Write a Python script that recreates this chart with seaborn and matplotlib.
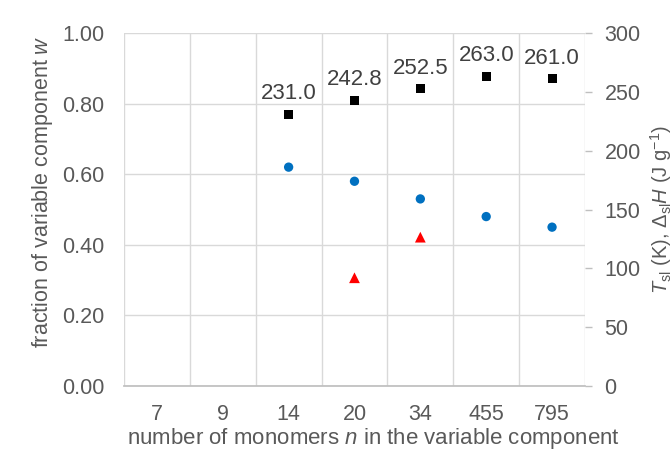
import numpy as np
import pandas as pd
import matplotlib
matplotlib.use('Agg')
import matplotlib.pyplot as plt
import seaborn as sns

# Data
categories = ['7', '9', '14', '20', '34', '455', '795']
temp_n = ['14', '20', '34', '455', '795']
temp_values = [231.0, 242.8, 252.5, 263.0, 261.0]          # T_sl (K), right axis
fraction_n = ['14', '20', '34', '455', '795']
fraction_values = [0.62, 0.58, 0.53, 0.48, 0.45]           # w, left axis
enthalpy_n = ['20', '34']
enthalpy_values = [92.0, 126.5]                             # Delta_sl H (J/g), right axis

sns.set_theme(style='white')
plt.rcParams['font.family'] = ['Liberation Sans', 'DejaVu Sans']
plt.rcParams['mathtext.fontset'] = 'custom'
plt.rcParams['mathtext.rm'] = 'Liberation Sans'
plt.rcParams['mathtext.it'] = 'Liberation Sans:italic'

grid_col = '#d9d9d9'
text_col = '#595959'

pos = {c: i for i, c in enumerate(categories)}
temp_df = pd.DataFrame({'x': [pos[c] for c in temp_n], 'y': temp_values})
frac_df = pd.DataFrame({'x': [pos[c] for c in fraction_n], 'y': fraction_values})
enth_df = pd.DataFrame({'x': [pos[c] for c in enthalpy_n], 'y': enthalpy_values})

fig = plt.figure(figsize=(6.72, 4.55), dpi=100)
ax = fig.add_axes([0.1845, 0.1516, 0.686, 0.7759])
ax2 = ax.twinx()

# left axis: fraction w
sns.scatterplot(data=frac_df, x='x', y='y', ax=ax, marker='o', s=45,
                color='#0070C0', edgecolor='none', zorder=3)
ax.set_xlim(-0.5, len(categories) - 0.5)
ax.set_ylim(0, 1)
ax.set_yticks(np.arange(0, 1.01, 0.2))
ax.set_yticklabels([f'{v:.2f}' for v in np.arange(0, 1.01, 0.2)])
ax.set_xticks(range(len(categories)))
ax.set_xticklabels(categories)
ax.set_xticks(np.arange(-0.5, len(categories), 1), minor=True)
ax.grid(True, axis='y', which='major', color=grid_col, lw=1)
ax.grid(True, axis='x', which='minor', color=grid_col, lw=1)
ax.grid(False, axis='x', which='major')
ax.tick_params(axis='both', which='both', length=0, labelsize=15.5, colors=text_col)
ax.tick_params(axis='y', pad=14)
ax.tick_params(axis='x', pad=13)
ax.set_xlabel('number of monomers $\\it{n}$ in the variable component',
              fontsize=16, color=text_col)
ax.xaxis.set_label_coords(0.541, -0.112)
ax.set_ylabel('fraction of variable component $\\it{w}$',
              fontsize=15.5, color=text_col)
ax.yaxis.set_label_coords(-0.15, 0.55)
for side in ['top', 'left', 'right']:
    ax.spines[side].set_visible(False)
ax.spines['bottom'].set_color('#bfbfbf')
ax.set_axisbelow(True)

# right axis: T_sl and Delta_sl H
sns.scatterplot(data=temp_df, x='x', y='y', ax=ax2, marker='s', s=42,
                color='black', edgecolor='none', zorder=3)
sns.scatterplot(data=enth_df, x='x', y='y', ax=ax2, marker='^', s=60,
                color='#FF0000', edgecolor='none', zorder=3)
for xv, yv in zip(temp_df['x'], temp_df['y']):
    ax2.annotate(f'{yv:.1f}', (xv, yv), xytext=(0, 11), textcoords='offset points',
                 ha='center', va='baseline', fontsize=16, color='#404040')
ax2.set_ylim(0, 300)
ax2.set_yticks(range(0, 301, 50))
ax2.tick_params(axis='y', length=5, width=1, color='#bfbfbf', labelsize=15.5,
                labelcolor=text_col, pad=9)
ax2.set_ylabel('$\\it{T}_{\\rm sl}$ (K), $\\Delta_{\\rm sl}\\it{H}$ (J g$^{-1}$)',
               fontsize=14.5, color=text_col, labelpad=5)
ax2.set_xlabel('')
for side in ['top', 'left', 'right', 'bottom']:
    ax2.spines[side].set_visible(False)

fig.savefig('out.png', dpi=100)
